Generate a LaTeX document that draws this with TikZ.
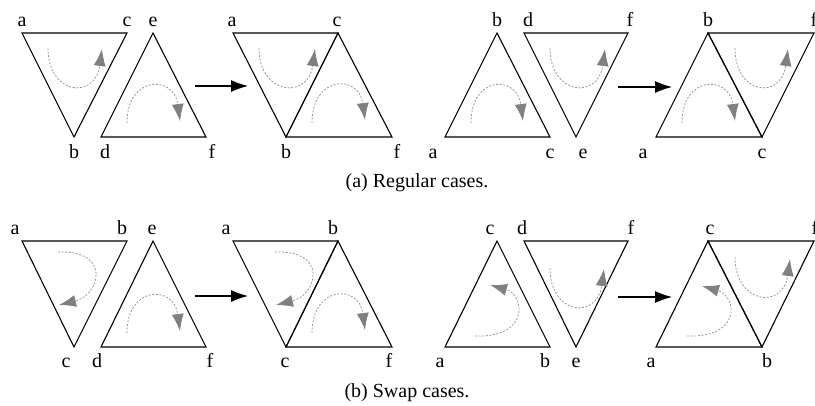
\documentclass[tikz,border=0pt]{standalone}
\usepackage{fontspec}
\setmainfont{Liberation Serif}
\usetikzlibrary{arrows.meta}
\definecolor{headgray}{RGB}{128,128,128}
\definecolor{curvegray}{RGB}{150,150,150}
\tikzset{
  tri/.style={draw=black, line width=1.1pt, line join=miter},
  lbl/.style={anchor=base, inner sep=0pt, font=\fontsize{20}{24}\selectfont},
  captext/.style={anchor=base, inner sep=0pt, font=\fontsize{20}{24}\selectfont},
  mainarrow/.style={draw=black, line width=1.1pt, -{Latex[length=17pt,width=12pt]}},
  turn/.style={draw=curvegray, line width=0.8pt, dash pattern=on 2pt off 1.6pt,
    -{Latex[length=17pt,width=12pt,color=headgray]}}
}
\begin{document}
\begin{tikzpicture}[x=1pt,y=-1pt]
\useasboundingbox (0,0) rectangle (815,405);

% ---------------- Row 1: regular cases ----------------
% panel 1
\coordinate (Aa1) at (22,33);  \coordinate (Ac1) at (127,33); \coordinate (Ab1) at (74,137);
\coordinate (Ae1) at (153,33); \coordinate (Ad1) at (101,137); \coordinate (Af1) at (206,137);
\draw[tri] (Aa1) -- (Ac1) -- (Ab1) -- cycle;
\draw[tri] (Ae1) -- (Af1) -- (Ad1) -- cycle;
\node[lbl] (LAa1) at (22,26) {a};
\node[lbl] (LAc1) at (127,26) {c};
\node[lbl] (LAe1) at (153,26) {e};
\node[lbl] (LAb1) at (74,158) {b};
\node[lbl] (LAd1) at (105,158) {d};
\node[lbl] (LAf1) at (212,158) {f};
\draw[turn] (48,48) .. controls +(0,47) and +(-7,51) .. (102,49);
\draw[turn] (127,123) .. controls +(0,-48) and +(-6,-46) .. (180,121);
% arrow
\coordinate (As1) at (195,86); \coordinate (At1) at (248,86);
\draw[mainarrow] (As1) -- (At1);
% panel 2
\coordinate (Aa2) at (233,33); \coordinate (Ac2) at (338,33); \coordinate (Ab2) at (286,137); \coordinate (Af2) at (392,137);
\draw[tri] (Aa2) -- (Ac2) -- (Ab2) -- cycle;
\draw[tri] (Ac2) -- (Af2) -- (Ab2) -- cycle;
\node[lbl] (LAa2) at (232,26) {a};
\node[lbl] (LAc2) at (337,26) {c};
\node[lbl] (LAb2) at (286,158) {b};
\node[lbl] (LAf2) at (397,158) {f};
\draw[turn] (259,48) .. controls +(0,47) and +(-7,51) .. (315,49);
\draw[turn] (312,123) .. controls +(0,-48) and +(-6,-46) .. (365,120);
% panel 3
\coordinate (Ab3) at (497,33); \coordinate (Aa3) at (445,137); \coordinate (Ac3) at (550,137);
\coordinate (Ad3) at (524,33); \coordinate (Af3) at (628,33); \coordinate (Ae3) at (576,137);
\draw[tri] (Ab3) -- (Ac3) -- (Aa3) -- cycle;
\draw[tri] (Ad3) -- (Af3) -- (Ae3) -- cycle;
\node[lbl] (LAb3) at (497,26) {b};
\node[lbl] (LAd3) at (528,26) {d};
\node[lbl] (LAf3) at (630,26) {f};
\node[lbl] (LAa3) at (433,158) {a};
\node[lbl] (LAc3) at (550,158) {c};
\node[lbl] (LAe3) at (583,158) {e};
\draw[turn] (471,123) .. controls +(0,-48) and +(-6,-46) .. (523,121);
\draw[turn] (550,48) .. controls +(0,47) and +(-7,51) .. (605,49);
% arrow
\coordinate (As2) at (618,87); \coordinate (At2) at (672,87);
\draw[mainarrow] (As2) -- (At2);
% panel 4
\coordinate (Ab4) at (708,33); \coordinate (Af4) at (814,33); \coordinate (Aa4) at (656,137); \coordinate (Ac4) at (762,137);
\draw[tri] (Ab4) -- (Ac4) -- (Aa4) -- cycle;
\draw[tri] (Ab4) -- (Af4) -- (Ac4) -- cycle;
\node[lbl] (LAb4) at (708,26) {b};
\node[lbl] (LAf4) at (814,26) {f};
\node[lbl] (LAa4) at (643,158) {a};
\node[lbl] (LAc4) at (762,158) {c};
\draw[turn] (682,123) .. controls +(0,-48) and +(-6,-46) .. (735,121);
\draw[turn] (735,48) .. controls +(0,47) and +(-7,51) .. (788,49);

\node[captext] (capA) at (417,187) {(a) Regular cases.};

% ---------------- Row 2: swap cases ----------------
% panel 1
\coordinate (Ba1) at (22,241);  \coordinate (Bb1) at (127,241); \coordinate (Bc1) at (74,347);
\coordinate (Be1) at (153,241); \coordinate (Bd1) at (101,347); \coordinate (Bf1) at (206,347);
\draw[tri] (Ba1) -- (Bb1) -- (Bc1) -- cycle;
\draw[tri] (Be1) -- (Bf1) -- (Bd1) -- cycle;
\node[lbl] (LBa1) at (15,234) {a};
\node[lbl] (LBb1) at (122,234) {b};
\node[lbl] (LBe1) at (152,234) {e};
\node[lbl] (LBc1) at (66,367) {c};
\node[lbl] (LBd1) at (97,367) {d};
\node[lbl] (LBf1) at (210,367) {f};
\draw[turn] (58,252) .. controls +(54,-2) and +(41,-10) .. (59,305);
\draw[turn] (127,333) .. controls +(0,-48) and +(-6,-46) .. (180,331);
% arrow
\coordinate (Bs1) at (195,296); \coordinate (Bt1) at (248,296);
\draw[mainarrow] (Bs1) -- (Bt1);
% panel 2
\coordinate (Ba2) at (233,241); \coordinate (Bb2) at (338,241); \coordinate (Bc2) at (286,347); \coordinate (Bf2) at (392,347);
\draw[tri] (Ba2) -- (Bb2) -- (Bc2) -- cycle;
\draw[tri] (Bb2) -- (Bf2) -- (Bc2) -- cycle;
\node[lbl] (LBa2) at (226,234) {a};
\node[lbl] (LBb2) at (333,234) {b};
\node[lbl] (LBc2) at (285,367) {c};
\node[lbl] (LBf2) at (389,367) {f};
\draw[turn] (275,252) .. controls +(54,-2) and +(41,-10) .. (276,305);
\draw[turn] (312,333) .. controls +(0,-48) and +(-6,-46) .. (365,330);
% panel 3
\coordinate (Bc3) at (497,241); \coordinate (Ba3) at (445,347); \coordinate (Bb3) at (550,347);
\coordinate (Bd3) at (524,241); \coordinate (Bf3) at (628,241); \coordinate (Be3) at (576,347);
\draw[tri] (Bc3) -- (Bb3) -- (Ba3) -- cycle;
\draw[tri] (Bd3) -- (Bf3) -- (Be3) -- cycle;
\node[lbl] (LBc3) at (490,234) {c};
\node[lbl] (LBd3) at (522,234) {d};
\node[lbl] (LBf3) at (631,234) {f};
\node[lbl] (LBa3) at (440,367) {a};
\node[lbl] (LBb3) at (545,367) {b};
\node[lbl] (LBe3) at (576,367) {e};
\draw[turn] (475,336) .. controls +(55,2) and +(35,10) .. (490,285);
\draw[turn] (550,268) .. controls +(0,47) and +(-7,51) .. (604,269);
% arrow
\coordinate (Bs2) at (618,297); \coordinate (Bt2) at (672,297);
\draw[mainarrow] (Bs2) -- (Bt2);
% panel 4
\coordinate (Bc4) at (708,241); \coordinate (Bf4) at (814,241); \coordinate (Ba4) at (656,347); \coordinate (Bb4) at (762,347);
\draw[tri] (Bc4) -- (Bb4) -- (Ba4) -- cycle;
\draw[tri] (Bc4) -- (Bf4) -- (Bb4) -- cycle;
\node[lbl] (LBc4) at (710,234) {c};
\node[lbl] (LBf4) at (815,234) {f};
\node[lbl] (LBa4) at (651,367) {a};
\node[lbl] (LBb4) at (767,367) {b};
\draw[turn] (687,336) .. controls +(55,2) and +(35,10) .. (702,286);
\draw[turn] (735,257) .. controls +(0,47) and +(-7,51) .. (790,259);

\node[captext] (capB) at (407,397) {(b) Swap cases.};
\end{tikzpicture}
\end{document}
